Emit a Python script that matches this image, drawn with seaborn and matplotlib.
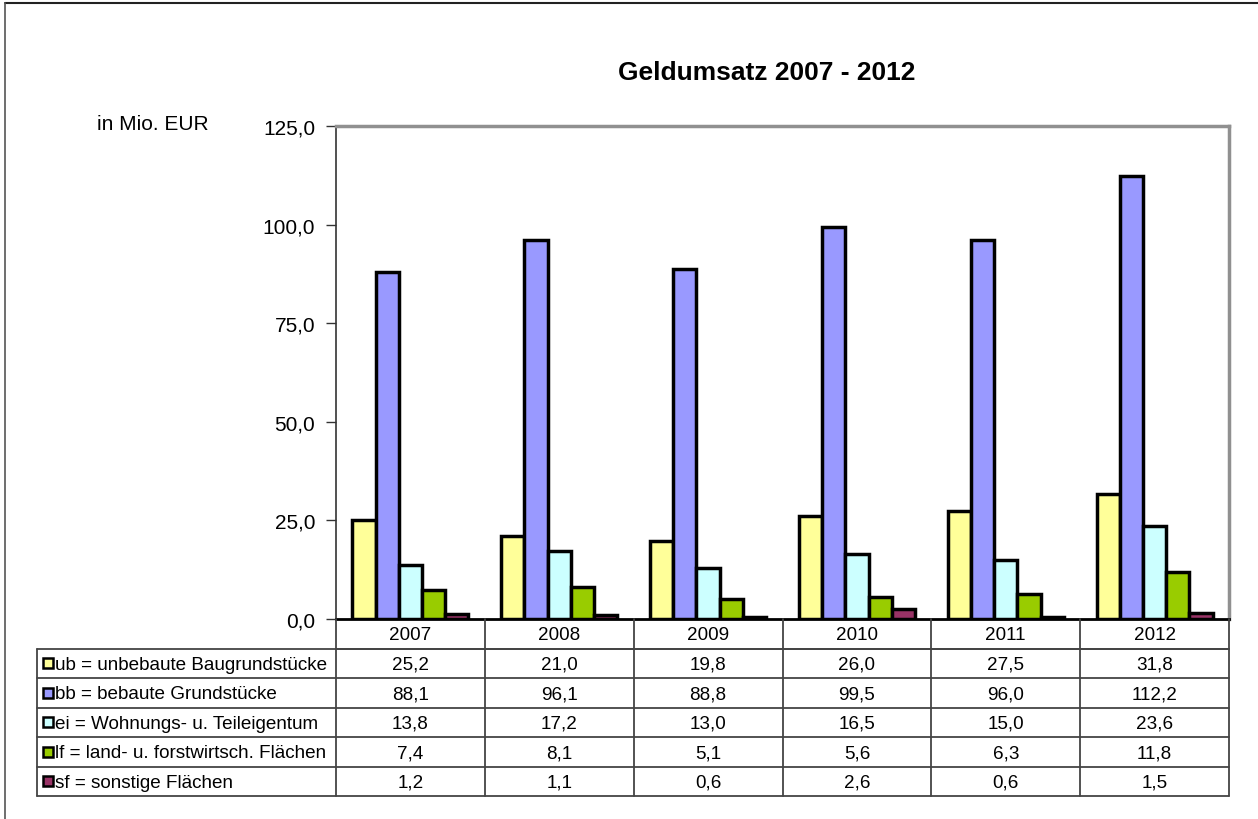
import matplotlib
matplotlib.use("Agg")
import matplotlib.pyplot as plt
from matplotlib.patches import Rectangle
from matplotlib.ticker import FuncFormatter
import seaborn as sns
import pandas as pd

years = ["2007", "2008", "2009", "2010", "2011", "2012"]
series = ["ub = unbebaute Baugrundstücke", "bb = bebaute Grundstücke",
          "ei = Wohnungs- u. Teileigentum", "lf = land- u. forstwirtsch. Flächen",
          "sf = sonstige Flächen"]
ub = [25.2, 21.0, 19.8, 26.0, 27.5, 31.8]
bb = [88.1, 96.1, 88.8, 99.5, 96.0, 112.2]
ei = [13.8, 17.2, 13.0, 16.5, 15.0, 23.6]
lf = [7.4, 8.1, 5.1, 5.6, 6.3, 11.8]
sf = [1.2, 1.1, 0.6, 2.6, 0.6, 1.5]
colors = ["#FFFF99", "#9999FF", "#CCFFFF", "#99CC00", "#993366"]

values = [ub, bb, ei, lf, sf]
rows = []
for s, vals in zip(series, values):
    for y, v in zip(years, vals):
        rows.append({"Jahr": y, "Art": s, "Wert": v})
df = pd.DataFrame(rows)

sns.set_theme(style="white")
plt.rcParams["font.family"] = ["Liberation Sans", "DejaVu Sans"]
plt.rcParams["text.color"] = "black"
plt.rcParams["ytick.color"] = "black"
plt.rcParams["ytick.labelcolor"] = "black"

W, H = 1258, 820
fig = plt.figure(figsize=(W / 100, H / 100), dpi=100)

# plot area in pixel coords
L, R, T, B = 336, 1229, 127, 620
ax = fig.add_axes([L / W, 1 - B / H, (R - L) / W, (B - T) / H])
sns.barplot(data=df, x="Jahr", y="Wert", hue="Art", palette=colors, ax=ax,
            width=0.78, saturation=1, edgecolor="black", linewidth=2.5, legend=False)
ax.set_xlim(-0.5, 5.5)
ax.set_ylim(0, 125)
ax.set_yticks([0, 25, 50, 75, 100, 125])
ax.yaxis.set_major_formatter(FuncFormatter(lambda v, p: f"{v:.1f}".replace(".", ",")))
ax.tick_params(axis="y", left=True, length=7, width=1, color="#333333",
               labelsize=15, pad=8, labelcolor="black")
ax.set_xticks([])
ax.set_xlabel("")
ax.set_ylabel("")
ax.spines["left"].set_color("#333333")
ax.spines["left"].set_linewidth(1.2)
ax.spines["bottom"].set_color("black")
ax.spines["bottom"].set_linewidth(2)
for s in ["top", "right"]:
    ax.spines[s].set_color("#909090")
    ax.spines[s].set_linewidth(2.5)

fig.text(767 / W, 1 - 73 / H, "Geldumsatz 2007 - 2012", ha="center", va="center",
         fontsize=19, fontweight="bold")
fig.text(153 / W, 1 - 124 / H, "in Mio. EUR", ha="center", va="center", fontsize=15)

# data table below the chart
TL, TT, TB = 37, 620, 797
tab = fig.add_axes([0, 0, 1, 1], facecolor="none")
tab.set_xlim(0, W)
tab.set_ylim(H, 0)
tab.axis("off")
ncol = len(years)
colw = (R - L) / ncol
rowh = (TB - TT) / (len(series) + 1)
lc = "#444444"
lw = 1.3
fs = 13.6
# column lines
for i in range(ncol + 1):
    x = L + i * colw
    tab.plot([x, x], [TT, TB], color=lc, lw=lw)
tab.plot([TL, TL], [TT + rowh, TB], color=lc, lw=lw)
# row lines
tab.plot([L, R], [TT + rowh, TT + rowh], color=lc, lw=lw)
for j in range(1, len(series) + 2):
    y = TT + j * rowh
    tab.plot([TL, R], [y, y], color=lc, lw=lw)
for i, yr in enumerate(years):
    tab.text(L + (i + 0.5) * colw, TT + rowh / 2 + 1, yr, ha="center", va="center", fontsize=fs)
for j, (s, vals, c) in enumerate(zip(series, values, colors)):
    yc = TT + (j + 1.5) * rowh
    tab.add_patch(Rectangle((43, yc - 5), 10, 10, facecolor=c, edgecolor="black", lw=1.8))
    tab.text(55, yc + 1, s, ha="left", va="center", fontsize=fs)
    for i, v in enumerate(vals):
        tab.text(L + (i + 0.5) * colw, yc + 1, f"{v:.1f}".replace(".", ","),
                 ha="center", va="center", fontsize=fs)

# outer frame lines
tab.plot([5, W], [4, 4], color="#222222", lw=1.5)
tab.plot([5, 5], [4, H], color="#555555", lw=1.2)

fig.savefig("out.png", dpi=100)
